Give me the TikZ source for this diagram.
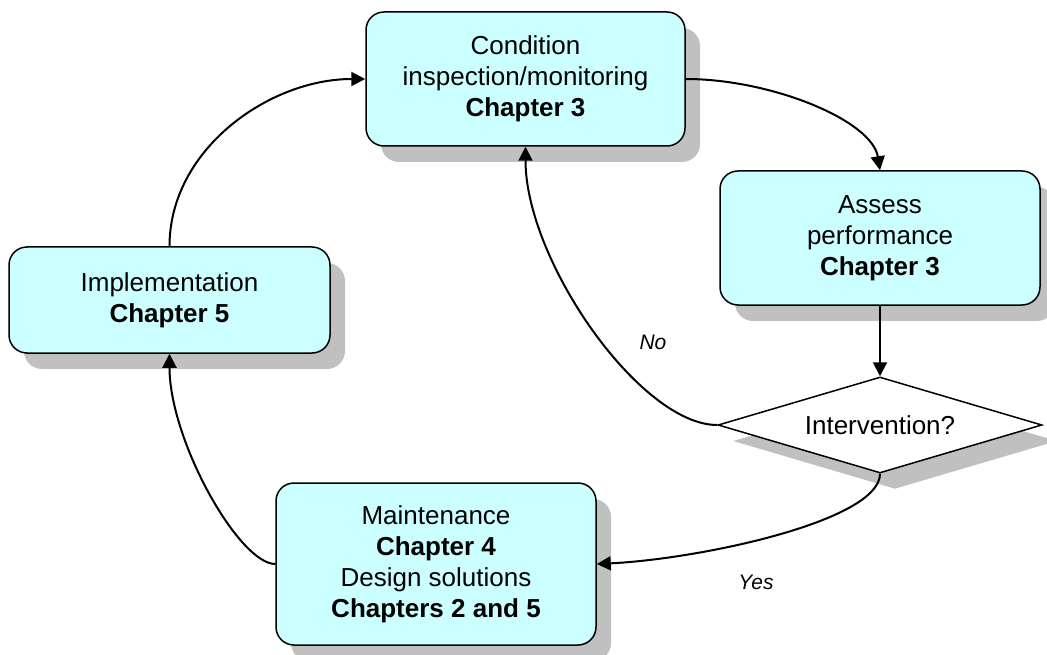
\documentclass[tikz,border=0pt]{standalone}
\usepackage{fontspec}
\setmainfont{Liberation Sans}
\usetikzlibrary{shapes.geometric,arrows.meta,shadows}
\definecolor{boxfill}{HTML}{CCFFFF}
\definecolor{shadowgray}{HTML}{C0C0C0}
\begin{document}
\begin{tikzpicture}[x=1pt,y=-1pt,
  shad/.style={drop shadow={shadow xshift=15pt, shadow yshift=-16pt, fill=shadowgray, opacity=1}},
  box/.style={draw=black, line width=1.5pt, fill=boxfill, rounded corners=18pt,
    align=center, inner sep=0pt, font=\fontsize{26}{31}\selectfont, shad},
  decision/.style={draw=black, line width=1.5pt, fill=white, diamond, aspect=3.375,
    inner sep=0pt, minimum width=324pt, minimum height=96pt,
    font=\fontsize{26}{31}\selectfont, shad},
  lbl/.style={font=\fontsize{21}{25}\selectfont\itshape, inner sep=0pt},
  conn/.style={line width=2pt, -{Triangle[length=14pt,width=14pt]}}
]
\useasboundingbox (0,0) rectangle (1047,655);

\node[box, minimum width=319pt, minimum height=134pt] (cond) at (525.5,79)
  {Condition\\inspection/monitoring\\\textbf{Chapter 3}};
\node[box, minimum width=320pt, minimum height=134pt] (assess) at (880,238)
  {Assess\\performance\\\textbf{Chapter 3}};
\node[decision] (diam) at (880,425) {Intervention?};
\node[box, minimum width=320pt, minimum height=162pt] (maint) at (436,564)
  {Maintenance\\\textbf{Chapter 4}\\Design solutions\\\textbf{Chapters 2 and 5}};
\node[box, minimum width=321pt, minimum height=106pt] (impl) at (169.5,300)
  {Implementation\\\textbf{Chapter 5}};

\node[lbl] (no) at (653,342) {No};
\node[lbl] (yes) at (756,582) {Yes};

\draw[conn] (impl.north) .. controls +(0,-97) and +(-96,0) .. (cond.west);
\draw[conn] (cond.east) .. controls +(85,0) and +(-8,-50) .. (assess.north);
\draw[conn] (assess.south) -- (diam.north);
\draw[conn] (diam.west) .. controls +(-77,0) and +(0,114) .. (cond.south);
\draw[conn] (diam.south) .. controls +(0,47) and +(104,-5) .. (maint.east);
\draw[conn] (maint.west) .. controls +(-36,0) and +(0,87) .. (impl.south);
\end{tikzpicture}
\end{document}
